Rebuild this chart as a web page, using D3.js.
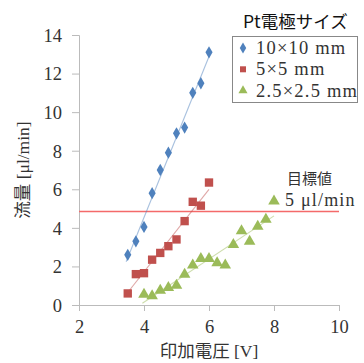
<!DOCTYPE html>
<html>
<head>
<meta charset="utf-8">
<script src="https://cdn.jsdelivr.net/npm/d3@7"></script>
<style>
  body { margin: 0; background: #fff; }
  svg { display: block; }
  .tick text { font-family: "Liberation Serif", serif; font-size: 18.5px; fill: #333; }
</style>
</head>
<body>
<svg id="chart"></svg>
<script>
let width = 364, height = 363;
let margin = {left: 79, right: 25, top: 35, bottom: 58};
let serif = '"Liberation Serif", "Noto Sans CJK JP", serif';

// data
let seriesNames = ['10×10 mm', '5×5 mm', '2.5×2.5 mm'];
let seriesColors = ['#4f81bd', '#c0504d', '#9bbb59'];
let blueX = [3.5, 3.75, 4.0, 4.25, 4.5, 4.75, 5.0, 5.25, 5.5, 5.75, 6.0];
let blueY = [2.6, 3.3, 4.05, 5.8, 7.0, 7.9, 8.9, 9.2, 11.0, 11.5, 13.1];
let redX = [3.5, 3.75, 4.0, 4.25, 4.5, 4.75, 5.0, 5.25, 5.5, 5.75, 6.0];
let redY = [0.6, 1.6, 1.65, 2.35, 2.7, 3.05, 3.4, 4.35, 5.35, 5.15, 6.35];
let greenX = [4.0, 4.25, 4.5, 4.75, 5.0, 5.25, 5.5, 5.75, 6.0, 6.25, 6.5, 6.75, 7.0, 7.25, 7.5, 7.75, 8.0];
let greenY = [0.55, 0.47, 0.76, 0.9, 1.02, 1.59, 2.06, 2.4, 2.4, 2.18, 2.06, 3.13, 3.84, 3.3, 4.08, 4.44, 5.38];
let targetValue = 4.85;
let xTicks = [2, 4, 6, 8, 10];
let yTicks = [0, 2, 4, 6, 8, 10, 12, 14];

let series = [
  {name: seriesNames[0], color: seriesColors[0], shape: d3.symbolDiamond, size: 44, xs: blueX, ys: blueY},
  {name: seriesNames[1], color: seriesColors[1], shape: d3.symbolSquare, size: 70, xs: redX, ys: redY},
  {name: seriesNames[2], color: seriesColors[2], shape: d3.symbolTriangle, size: 58, xs: greenX, ys: greenY}
];

let svg = d3.select('#chart').attr('width', width).attr('height', height);

let xScale = d3.scaleLinear().domain([2, 10]).range([margin.left, width - margin.right]);
let yScale = d3.scaleLinear().domain([0, 14]).range([height - margin.bottom, margin.top]);

// axes
let xAxis = svg.append('g')
  .attr('transform', `translate(0,${yScale(0)})`)
  .call(d3.axisBottom(xScale).tickValues(xTicks).tickSize(6).tickPadding(9));
let yAxis = svg.append('g')
  .attr('transform', `translate(${xScale(2)},0)`)
  .call(d3.axisLeft(yScale).tickValues(yTicks).tickSize(7).tickPadding(10));
[xAxis, yAxis].forEach(a => {
  a.select('.domain').attr('stroke', '#bbb');
  a.selectAll('.tick line').attr('stroke', '#bbb');
});
yAxis.selectAll('.tick text').attr('dy', '0.34em');

// target line
svg.append('line')
  .attr('x1', xScale(2)).attr('x2', xScale(10))
  .attr('y1', Math.round(yScale(targetValue)) + 0.5).attr('y2', Math.round(yScale(targetValue)) + 0.5)
  .attr('stroke', '#f46a6a').attr('stroke-width', 1.3);

function fit(xs, ys) {
  let mx = d3.mean(xs), my = d3.mean(ys);
  let sxy = d3.sum(xs, (x, i) => (x - mx) * (ys[i] - my));
  let sxx = d3.sum(xs, x => (x - mx) * (x - mx));
  let b = sxy / sxx;
  return x => my + b * (x - mx);
}

// trend lines
series.forEach(s => {
  let f = fit(s.xs, s.ys);
  let x0 = d3.min(s.xs) - 0.05, x1 = d3.max(s.xs);
  svg.append('line')
    .attr('x1', xScale(x0)).attr('y1', yScale(f(x0)))
    .attr('x2', xScale(x1)).attr('y2', yScale(f(x1)))
    .attr('stroke', s.color).attr('stroke-opacity', 0.5).attr('stroke-width', 1.1);
});

// markers
series.forEach(s => {
  svg.append('g').selectAll('path')
    .data(s.xs.map((x, i) => [x, s.ys[i]]))
    .join('path')
    .attr('transform', d => `translate(${xScale(d[0])},${yScale(d[1])})`)
    .attr('d', d3.symbol().type(s.shape).size(s.size))
    .attr('fill', s.color);
});

// axis titles
svg.append('text')
  .attr('x', (xScale(2) + xScale(10)) / 2).attr('y', 357)
  .attr('text-anchor', 'middle')
  .style('font-family', serif)
  .style('font-size', '17.5px').attr('fill', '#333')
  .text('印加電圧 [V]');
svg.append('text')
  .attr('transform', `translate(29,${(yScale(0) + yScale(14)) / 2}) rotate(-90)`)
  .attr('text-anchor', 'middle')
  .style('font-family', serif)
  .style('font-size', '17.5px').attr('fill', '#333')
  .text('流量 [μl/min]');

// target annotation
svg.append('text')
  .attr('x', 287).attr('y', 184)
  .style('font-family', '"Noto Sans CJK JP", sans-serif')
  .style('font-size', '15px').attr('fill', '#333')
  .text('目標値');
svg.append('text')
  .attr('x', 285).attr('y', 206)
  .style('font-family', serif).style('letter-spacing', '1.2px')
  .style('font-size', '18px').attr('fill', '#333')
  .text('5 μl/min');

// legend
svg.append('text')
  .attr('x', 243).attr('y', 28)
  .style('font-family', '"Noto Sans CJK JP", sans-serif')
  .style('font-size', '17.5px').attr('fill', '#111')
  .text('Pt電極サイズ');
let legend = svg.append('g');
legend.append('rect')
  .attr('x', 232.5).attr('y', 36.5).attr('width', 125).attr('height', 66)
  .attr('fill', '#fff').attr('stroke', '#888').attr('stroke-width', 1);
series.forEach((s, i) => {
  let y = 48 + i * 21.3;
  legend.append('path')
    .attr('transform', `translate(243,${y})`)
    .attr('d', d3.symbol().type(s.shape).size(36)())
    .attr('fill', s.color);
  legend.append('text')
    .attr('x', 256).attr('y', y + 6)
    .style('font-family', serif).style('letter-spacing', '1.2px')
    .style('font-size', '18.5px').attr('fill', '#333')
    .text(s.name);
});
</script>
</body>
</html>
